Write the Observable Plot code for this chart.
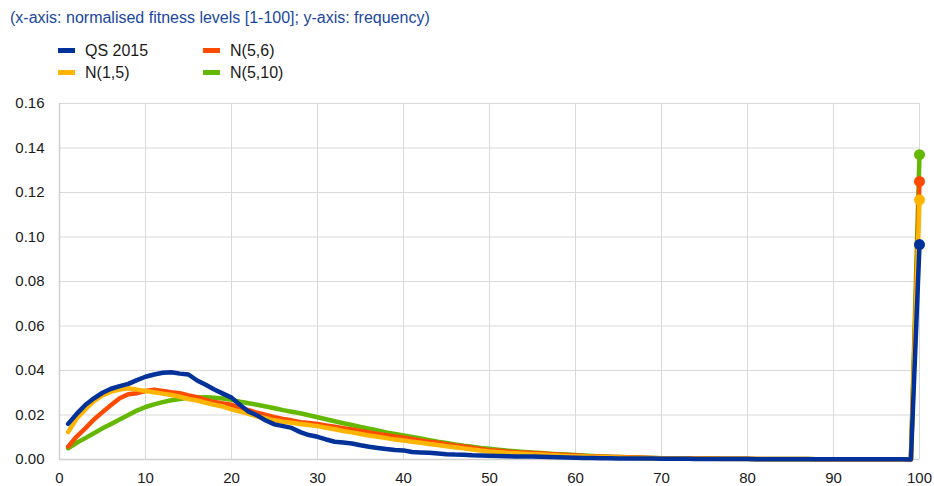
<!DOCTYPE html>
<html>
<head>
<meta charset="utf-8">
<script src="https://cdn.jsdelivr.net/npm/d3@7"></script>
<script src="https://cdn.jsdelivr.net/npm/@observablehq/plot@0.6"></script>
<style>
  html, body { margin: 0; padding: 0; background: #fff; }
  #wrap { position: relative; width: 934px; height: 486px; font-family: "Liberation Sans", Arial, sans-serif; overflow: hidden; }
  #title { position: absolute; left: 10px; top: 10px; font-size: 16px; line-height: 16px; color: #1a47a0; white-space: nowrap; }
  .lg-sw { position: absolute; width: 17px; height: 5px; }
  .lg-tx { position: absolute; font-size: 16px; line-height: 16px; color: #1a1a1a; white-space: nowrap; }
  #chart { position: absolute; left: 0; top: 86px; }
</style>
</head>
<body>
<div id="wrap">
  <div id="title">(x-axis: normalised fitness levels [1-100]; y-axis: frequency)</div>
  <div id="legend"></div>
  <div id="chart"></div>
</div>
<script>
// ---- data ----
const seriesNames = ["QS 2015", "N(5,6)", "N(1,5)", "N(5,10)"];
const seriesColors = ["#003299", "#ff4b00", "#ffb400", "#65b800"];
const fitnessLevels = d3.range(1, 101); // categories 1..100

const qs2015 = [
  0.0160, 0.0205, 0.0245, 0.0275, 0.0300, 0.0318, 0.0330, 0.0340, 0.0357, 0.0372,
  0.0382, 0.0390, 0.0392, 0.0386, 0.0382, 0.0355, 0.0336, 0.0315, 0.0296, 0.0278,
  0.0245, 0.0215, 0.0198, 0.0175, 0.0158, 0.0150, 0.0142, 0.0123, 0.0110, 0.0102,
  0.0090, 0.0080, 0.0076, 0.0072, 0.0064, 0.0057, 0.0052, 0.0047, 0.0043, 0.0041,
  0.0034, 0.0032, 0.0030, 0.0027, 0.0024, 0.0022, 0.0021, 0.0019, 0.0018, 0.0017,
  0.0016, 0.0015, 0.0014, 0.0013, 0.0013, 0.0012, 0.0011, 0.0010, 0.0009, 0.0008,
  0.0007, 0.0007, 0.0006, 0.0006, 0.0005, 0.0005, 0.0004, 0.0004, 0.0004, 0.0003,
  0.0003, 0.0003, 0.0003, 0.0002, 0.0002, 0.0002, 0.0002, 0.0002, 0.0002, 0.0002,
  0.0001, 0.0001, 0.0001, 0.0001, 0.0001, 0.0001, 0.0001, 0.0001, 0.0001, 0.0001,
  0.0001, 0.0001, 0.0001, 0.0001, 0.0001, 0.0001, 0.0001, 0.0001, 0.0000, 0.0966
];
const n56 = [
  0.0058, 0.0103, 0.0140, 0.0180, 0.0213, 0.0245, 0.0275, 0.0293, 0.0298, 0.0308,
  0.0314, 0.0308, 0.0302, 0.0298, 0.0288, 0.0280, 0.0268, 0.0258, 0.0252, 0.0246,
  0.0232, 0.0222, 0.0210, 0.0200, 0.0190, 0.0182, 0.0176, 0.0168, 0.0164, 0.0160,
  0.0153, 0.0147, 0.0141, 0.0135, 0.0128, 0.0121, 0.0115, 0.0109, 0.0103, 0.0098,
  0.0092, 0.0086, 0.0080, 0.0075, 0.0069, 0.0063, 0.0058, 0.0053, 0.0047, 0.0042,
  0.0039, 0.0036, 0.0033, 0.0031, 0.0029, 0.0027, 0.0025, 0.0022, 0.0020, 0.0018,
  0.0016, 0.0015, 0.0013, 0.0012, 0.0011, 0.0010, 0.0009, 0.0008, 0.0007, 0.0006,
  0.0006, 0.0005, 0.0005, 0.0004, 0.0004, 0.0004, 0.0003, 0.0003, 0.0003, 0.0003,
  0.0002, 0.0002, 0.0002, 0.0002, 0.0002, 0.0002, 0.0002, 0.0001, 0.0001, 0.0001,
  0.0001, 0.0001, 0.0001, 0.0001, 0.0001, 0.0001, 0.0001, 0.0001, 0.0000, 0.1250
];
const n15 = [
  0.0123, 0.0184, 0.0225, 0.0262, 0.0288, 0.0305, 0.0314, 0.0320, 0.0314, 0.0308,
  0.0302, 0.0296, 0.0290, 0.0282, 0.0272, 0.0265, 0.0255, 0.0246, 0.0238, 0.0225,
  0.0215, 0.0205, 0.0193, 0.0186, 0.0176, 0.0170, 0.0165, 0.0160, 0.0155, 0.0150,
  0.0143, 0.0136, 0.0128, 0.0122, 0.0115, 0.0108, 0.0102, 0.0096, 0.0090, 0.0085,
  0.0080, 0.0075, 0.0070, 0.0065, 0.0060, 0.0055, 0.0050, 0.0045, 0.0040, 0.0036,
  0.0033, 0.0030, 0.0028, 0.0026, 0.0024, 0.0022, 0.0020, 0.0018, 0.0016, 0.0014,
  0.0013, 0.0012, 0.0011, 0.0010, 0.0009, 0.0008, 0.0007, 0.0006, 0.0005, 0.0005,
  0.0004, 0.0004, 0.0003, 0.0003, 0.0003, 0.0003, 0.0002, 0.0002, 0.0002, 0.0002,
  0.0002, 0.0001, 0.0001, 0.0001, 0.0001, 0.0001, 0.0001, 0.0001, 0.0001, 0.0001,
  0.0001, 0.0001, 0.0001, 0.0001, 0.0001, 0.0001, 0.0001, 0.0001, 0.0000, 0.1167
];
const n510 = [
  0.0050, 0.0075, 0.0096, 0.0118, 0.0140, 0.0160, 0.0180, 0.0200, 0.0220, 0.0236,
  0.0248, 0.0258, 0.0266, 0.0272, 0.0277, 0.0279, 0.0280, 0.0278, 0.0274, 0.0268,
  0.0260, 0.0253, 0.0246, 0.0238, 0.0230, 0.0222, 0.0215, 0.0208, 0.0199, 0.0190,
  0.0181, 0.0172, 0.0163, 0.0155, 0.0146, 0.0138, 0.0130, 0.0122, 0.0115, 0.0108,
  0.0101, 0.0094, 0.0087, 0.0080, 0.0074, 0.0068, 0.0062, 0.0057, 0.0052, 0.0048,
  0.0044, 0.0040, 0.0037, 0.0034, 0.0031, 0.0029, 0.0026, 0.0024, 0.0022, 0.0020,
  0.0018, 0.0016, 0.0014, 0.0012, 0.0011, 0.0010, 0.0009, 0.0008, 0.0007, 0.0006,
  0.0006, 0.0005, 0.0005, 0.0004, 0.0004, 0.0004, 0.0003, 0.0003, 0.0003, 0.0003,
  0.0002, 0.0002, 0.0002, 0.0002, 0.0002, 0.0002, 0.0002, 0.0001, 0.0001, 0.0001,
  0.0001, 0.0001, 0.0001, 0.0001, 0.0001, 0.0001, 0.0001, 0.0001, 0.0000, 0.1370
];
const xTicks = [0, 10, 20, 30, 40, 50, 60, 70, 80, 90, 100];
const yTicks = [0, 0.02, 0.04, 0.06, 0.08, 0.10, 0.12, 0.14, 0.16];

// ---- build table ----
const seriesValues = [qs2015, n56, n15, n510];
const rows = [];
seriesNames.forEach((name, i) => {
  seriesValues[i].forEach((v, j) => rows.push({series: name, x: fitnessLevels[j], y: v}));
});
const drawOrder = ["N(5,10)", "N(5,6)", "N(1,5)", "QS 2015"];
const colorOf = Object.fromEntries(seriesNames.map((n, i) => [n, seriesColors[i]]));
const lastPoints = drawOrder.map(n => rows.filter(r => r.series === n && r.x === 100)[0]);

// ---- legend (HTML) ----
const legendLayout = [
  {name: "QS 2015", sx: 58, tx: 85, row: 0},
  {name: "N(5,6)", sx: 203, tx: 230, row: 0},
  {name: "N(1,5)", sx: 58, tx: 85, row: 1},
  {name: "N(5,10)", sx: 203, tx: 230, row: 1}
];
const legend = document.getElementById("legend");
legendLayout.forEach(l => {
  const sw = document.createElement("div");
  sw.className = "lg-sw";
  sw.style.left = l.sx + "px";
  sw.style.top = (47.5 + l.row * 22.5) + "px";
  sw.style.background = colorOf[l.name];
  legend.appendChild(sw);
  const tx = document.createElement("div");
  tx.className = "lg-tx";
  tx.style.left = l.tx + "px";
  tx.style.top = (42.5 + l.row * 22.5) + "px";
  tx.textContent = l.name;
  legend.appendChild(tx);
});

// ---- chart ----
const chart = Plot.plot({
  width: 934,
  height: 400,
  marginLeft: 59,
  marginRight: 15,
  marginTop: 17,
  marginBottom: 27,
  style: {fontFamily: "'Liberation Sans', Arial, sans-serif", fontSize: "15px", color: "#1a1a1a", background: "white", overflow: "visible"},
  x: {domain: [0, 100], ticks: xTicks, tickSize: 0, tickPadding: 13, label: null},
  y: {domain: [0, 0.16], ticks: yTicks, tickSize: 0, tickPadding: 15, tickFormat: d3.format(".2f"), label: null},
  color: {domain: seriesNames, range: seriesColors},
  marks: [
    Plot.gridY(yTicks, {stroke: "#d9d9d9", strokeOpacity: 1, strokeWidth: 1}),
    Plot.gridX(xTicks, {stroke: "#d9d9d9", strokeOpacity: 1, strokeWidth: 1}),
    Plot.ruleY([0], {stroke: "#d0d0d0", strokeWidth: 1.5}),
    Plot.ruleX([0], {stroke: "#d0d0d0", strokeWidth: 1.5}),
    ...drawOrder.map(n => Plot.line(rows.filter(r => r.series === n), {
      x: "x", y: "y", stroke: colorOf[n], strokeWidth: 4.5, strokeLinejoin: "round", strokeLinecap: "round"
    })),
    Plot.dot(lastPoints, {x: "x", y: "y", r: 5.5, fill: "series", stroke: "none"})
  ]
});
document.getElementById("chart").appendChild(chart);
</script>
</body>
</html>
